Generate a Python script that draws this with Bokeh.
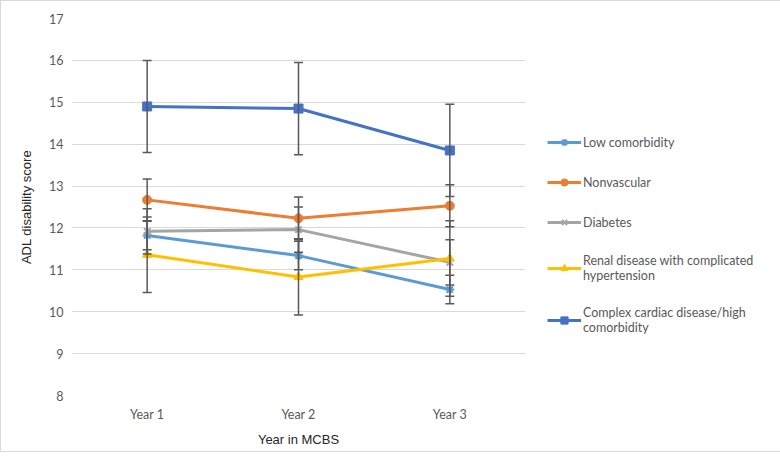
from bokeh.plotting import figure
from bokeh.models import (ColumnDataSource, FactorRange, Range1d, FixedTicker, Whisker,
                          TeeHead, Legend, LegendItem)
from bokeh.embed import file_html
from bokeh.resources import INLINE

years = ["Year 1", "Year 2", "Year 3"]
series_names = ["Low comorbidity", "Nonvascular", "Diabetes",
                "Renal disease with complicated\nhypertension",
                "Complex cardiac disease/high\ncomorbidity"]
low_comorbidity = [11.82, 11.34, 10.53]
nonvascular = [12.67, 12.23, 12.53]
diabetes = [11.92, 11.96, 11.18]
renal = [11.36, 10.83, 11.27]
cardiac = [14.90, 14.85, 13.85]
err_low = [0.34, 0.34, 0.34]
err_nonvasc = [0.50, 0.51, 0.50]
err_diab = [0.54, 0.54, 0.54]
err_renal = [0.90, 0.91, 0.90]
err_cardiac = [1.10, 1.10, 1.10]
y_ticks = [8, 9, 10, 11, 12, 13, 14, 15, 16, 17]

colors = ["#5B9BD5", "#ED7D31", "#A5A5A5", "#FFC000", "#4472C4"]
markers = ["asterisk", "circle", "x", "triangle", "square"]
values = [low_comorbidity, nonvascular, diabetes, renal, cardiac]
errors = [err_low, err_nonvasc, err_diab, err_renal, err_cardiac]

p = figure(frame_width=454, frame_height=377,
           x_range=FactorRange(*years, range_padding=0),
           y_range=Range1d(8, 17), output_backend="svg", toolbar_location=None,
           min_border_left=70, min_border_right=0, min_border_top=17,
           min_border_bottom=56)
p.outline_line_color = None
p.background_fill_color = "white"
p.border_fill_color = "white"
p.styles = {"border": "1px solid #d9d9d9", "box-sizing": "border-box"}

p.xgrid.grid_line_color = None
p.ygrid.grid_line_color = "#d9d9d9"
p.ygrid.grid_line_width = 1
p.yaxis.ticker = FixedTicker(ticks=y_ticks)

for ax in (p.xaxis[0], p.yaxis[0]):
    ax.axis_line_color = None
    ax.major_tick_line_color = None
    ax.minor_tick_line_color = None
    ax.major_label_text_font = "Lato"
    ax.major_label_text_font_size = "12.5px"
    ax.major_label_text_color = "#595959"
    ax.axis_label_text_font = "Liberation Sans"
    ax.axis_label_text_font_size = "13px"
    ax.axis_label_text_font_style = "normal"
    ax.axis_label_text_color = "#262626"
p.xaxis.axis_label = "Year in MCBS"
p.yaxis.axis_label = "ADL disability score"
p.xaxis.major_label_standoff = 5
p.xaxis.axis_label_standoff = 7
p.yaxis.major_label_standoff = 2
p.yaxis.axis_label_standoff = 12

# error bars first
for vals, errs in zip(values, errors):
    src = ColumnDataSource(dict(x=years,
                                upper=[v + e for v, e in zip(vals, errs)],
                                lower=[v - e for v, e in zip(vals, errs)]))
    w = Whisker(source=src, base="x", upper="upper", lower="lower",
                line_color="#595959", line_width=1.5, level="glyph",
                upper_head=TeeHead(size=9, line_color="#595959", line_width=1.5),
                lower_head=TeeHead(size=9, line_color="#595959", line_width=1.5))
    p.add_layout(w)

items = []
for name, vals, col, mk in zip(series_names, values, colors, markers):
    src = ColumnDataSource(dict(x=years, y=vals))
    r1 = p.line("x", "y", source=src, line_color=col, line_width=3)
    if mk in ("asterisk", "x"):
        r2 = p.scatter("x", "y", source=src, marker=mk, size=9, line_color=col,
                       line_width=2, fill_color=col)
    else:
        r2 = p.scatter("x", "y", source=src, marker=mk, size=9, line_color=col,
                       fill_color=col)
    items.append(LegendItem(label=name, renderers=[r1, r2]))

legend = Legend(items=items, location=(22, 60), padding=0, margin=0,
                spacing=22, glyph_width=34, glyph_height=18, label_height=18,
                label_standoff=2, label_text_font="Lato",
                label_text_font_size="12.5px", label_text_color="#595959",
                label_text_line_height=1.4,
                border_line_color=None, background_fill_alpha=0)
p.add_layout(legend, "right")

open("out.html", "w").write(file_html(p, INLINE))
